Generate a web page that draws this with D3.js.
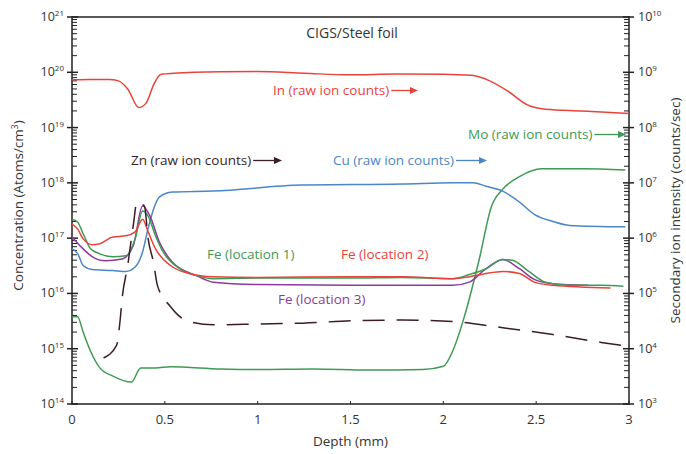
<!DOCTYPE html>
<html>
<head>
<meta charset="utf-8">
<script src="https://cdn.jsdelivr.net/npm/d3@7/dist/d3.min.js"></script>
<style>
  body { margin: 0; background: #fff; }
  text { font-family: "Open Sans", sans-serif; }
</style>
</head>
<body>
<div id="chart"></div>
<script>
// depth (mm) vs value; Fe curves on the left axis (atoms/cm3), raw counts on the right axis
const feLoc1 = [[0, 2.2e17], [0.03, 1.96e17], [0.06, 1.2e17], [0.10, 6.4e16], [0.15, 5.2e16], [0.22, 4.6e16], [0.29, 4.8e16],
  [0.34, 9.7e16], [0.38, 3.1e17], [0.41, 2.5e17], [0.45, 1.1e17], [0.49, 5.7e16], [0.58, 2.8e16], [0.67, 2.1e16],
  [0.76, 1.85e16], [1.0, 1.9e16], [1.5, 1.9e16], [1.78, 1.95e16], [2.05, 1.85e16], [2.14, 2.2e16], [2.23, 2.8e16],
  [2.32, 4.1e16], [2.37, 4.0e16], [2.46, 2.5e16], [2.55, 1.6e16], [2.68, 1.4e16], [2.85, 1.4e16], [2.97, 1.35e16]];
const feLoc2 = [[0, 1.8e17], [0.03, 1.47e17], [0.06, 9.7e16], [0.11, 7.6e16], [0.15, 7.9e16], [0.22, 1.05e17], [0.29, 1.1e17],
  [0.34, 1.3e17], [0.38, 2.2e17], [0.41, 1.3e17], [0.45, 6.4e16], [0.53, 3.2e16], [0.63, 2.3e16], [0.76, 2.0e16],
  [1.0, 1.95e16], [1.5, 2.0e16], [1.78, 2.0e16], [2.05, 1.85e16], [2.14, 2.0e16], [2.23, 2.3e16], [2.32, 2.5e16],
  [2.41, 2.3e16], [2.49, 1.6e16], [2.59, 1.4e16], [2.9, 1.25e16]];
const feLoc3 = [[0, 1.05e17], [0.06, 6.4e16], [0.11, 4.6e16], [0.18, 3.9e16], [0.27, 4.2e16], [0.33, 7.3e16], [0.38, 3.8e17],
  [0.42, 2.5e17], [0.47, 8.6e16], [0.54, 3.7e16], [0.67, 2.1e16], [0.76, 1.6e16], [1.0, 1.45e16], [1.5, 1.4e16],
  [1.78, 1.4e16], [2.05, 1.4e16], [2.14, 1.6e16], [2.23, 2.8e16], [2.32, 4.1e16], [2.41, 2.8e16], [2.49, 1.8e16],
  [2.59, 1.5e16], [2.78, 1.4e16]];

const inCounts = [[0, 7.3e8], [0.1, 7.4e8], [0.2, 7.4e8], [0.25, 7.0e8], [0.3, 5.0e8], [0.36, 2.3e8], [0.4, 2.8e8],
  [0.44, 6e8], [0.48, 9.2e8], [0.55, 9.6e8], [0.8, 1.02e9], [1.0, 1.03e9], [1.25, 9.6e8], [1.5, 9.0e8], [1.75, 9.3e8],
  [2.0, 9.2e8], [2.15, 8.8e8], [2.25, 7.0e8], [2.35, 4.5e8], [2.45, 2.6e8], [2.55, 2.15e8], [2.75, 2.0e8], [3.0, 1.8e8]];
const moCounts = [[0, 3.8e4], [0.03, 3.8e4], [0.06, 2.0e4], [0.10, 9e3], [0.15, 4.5e3], [0.22, 3.2e3], [0.32, 2.5e3],
  [0.37, 4.5e3], [0.45, 4.5e3], [0.53, 4.7e3], [0.8, 4.3e3], [1.0, 4.2e3], [1.3, 4.3e3], [1.6, 4.1e3], [1.89, 4.2e3],
  [2.0, 4.8e3], [2.05, 9e3], [2.11, 3.5e4], [2.19, 3.7e5], [2.26, 3.8e6], [2.32, 7.7e6], [2.41, 1.3e7], [2.53, 1.8e7],
  [2.75, 1.8e7], [2.98, 1.7e7]];
const znCounts = [[0.17, 6.8e3], [0.24, 1.15e4], [0.26, 3.5e4], [0.27, 8.1e4], [0.30, 3.2e5], [0.33, 1.7e6], [0.35, 4.5e6],
  [0.39, 3.8e6], [0.41, 9.8e5], [0.44, 3.5e5], [0.46, 1.4e5], [0.53, 5.8e4], [0.62, 3.2e4], [0.76, 2.7e4], [1.0, 2.8e4],
  [1.24, 2.9e4], [1.51, 3.2e4], [1.78, 3.3e4], [2.05, 3.1e4], [2.32, 2.4e4], [2.59, 1.8e4], [2.85, 1.3e4], [3.0, 1.1e4]];
const cuCounts = [[0, 6.4e5], [0.03, 5.3e5], [0.06, 3.2e5], [0.11, 2.7e5], [0.22, 2.6e5], [0.29, 2.5e5], [0.34, 3.0e5],
  [0.38, 5.6e5], [0.41, 1.5e6], [0.44, 3.4e6], [0.47, 5.5e6], [0.54, 6.8e6], [0.76, 7.1e6], [1.24, 9.1e6], [1.78, 9.5e6],
  [2.05, 1.0e7], [2.16, 1.0e7], [2.23, 8.7e6], [2.32, 7.1e6], [2.41, 4.5e6], [2.49, 2.7e6], [2.59, 2.0e6], [2.68, 1.7e6],
  [2.98, 1.6e6]];

const xTicks = [0, 0.5, 1, 1.5, 2, 2.5, 3];
const leftExp = [14, 15, 16, 17, 18, 19, 20, 21];
const rightExp = [3, 4, 5, 6, 7, 8, 9, 10];

const labels = [
  { text: 'In (raw ion counts)', x: 273, y: 95, color: '#e8433b', arrow: 418 },
  { text: 'Mo (raw ion counts)', x: 468, y: 139, color: '#3f9a55', arrow: 626 },
  { text: 'Zn (raw ion counts)', x: 131, y: 165, color: '#3b1d22', arrow: 282 },
  { text: 'Cu (raw ion counts)', x: 333, y: 165, color: '#4a86c8', arrow: 487 },
  { text: 'Fe (location 1)', x: 207, y: 259, color: '#3f9a55' },
  { text: 'Fe (location 2)', x: 341, y: 259, color: '#e8433b' },
  { text: 'Fe (location 3)', x: 278, y: 304, color: '#8c3a9e' }
];

const width = 686, height = 454;
const margin = { top: 17, right: 57, bottom: 50, left: 72 };
const innerW = width - margin.left - margin.right;
const innerH = height - margin.top - margin.bottom;

const svg = d3.select('#chart').append('svg')
  .attr('width', width)
  .attr('height', height);

const g = svg.append('g')
  .attr('transform', `translate(${margin.left},${margin.top})`);

const x = d3.scaleLinear().domain([0, 3]).range([0, innerW]);
const yLeft = d3.scaleLog().domain([1e14, 1e21]).range([innerH, 0]);
const yRight = d3.scaleLog().domain([1e3, 1e10]).range([innerH, 0]);

// frame
g.append('rect')
  .attr('width', innerW).attr('height', innerH)
  .attr('fill', 'none').attr('stroke', '#222').attr('stroke-width', 1.5);

// log minor ticks (2..9 in each decade)
function minorTicks(lo, hi) {
  const out = [];
  for (let e = lo; e < hi; e++) {
    for (let m = 2; m <= 9; m++) out.push(m * Math.pow(10, e));
  }
  return out;
}

g.selectAll('.lminor').data(minorTicks(14, 21)).enter().append('line')
  .attr('x1', 0).attr('x2', 5)
  .attr('y1', d => yLeft(d)).attr('y2', d => yLeft(d))
  .attr('stroke', '#222').attr('stroke-width', 1);
g.selectAll('.rminor').data(minorTicks(3, 10)).enter().append('line')
  .attr('x1', innerW - 5).attr('x2', innerW)
  .attr('y1', d => yRight(d)).attr('y2', d => yRight(d))
  .attr('stroke', '#222').attr('stroke-width', 1);

// major ticks
g.selectAll('.lmajor').data(leftExp).enter().append('line')
  .attr('x1', -5).attr('x2', 6)
  .attr('y1', d => yLeft(Math.pow(10, d))).attr('y2', d => yLeft(Math.pow(10, d)))
  .attr('stroke', '#222').attr('stroke-width', 1.5);
g.selectAll('.rmajor').data(rightExp).enter().append('line')
  .attr('x1', innerW - 6).attr('x2', innerW + 5)
  .attr('y1', d => yRight(Math.pow(10, d))).attr('y2', d => yRight(Math.pow(10, d)))
  .attr('stroke', '#222').attr('stroke-width', 1.5);
g.selectAll('.xtick').data(xTicks).enter().append('line')
  .attr('x1', d => x(d)).attr('x2', d => x(d))
  .attr('y1', innerH - 3).attr('y2', innerH)
  .attr('stroke', '#222').attr('stroke-width', 1);

// tick labels
function powLabel(sel, exp) {
  sel.append('tspan').text('10');
  sel.append('tspan').attr('dy', -5).attr('font-size', 8).text(exp);
}
g.selectAll('.llab').data(leftExp).enter().append('text')
  .attr('x', -8).attr('y', d => yLeft(Math.pow(10, d)) + 4)
  .attr('text-anchor', 'end').attr('font-size', 12.5).attr('fill', '#333')
  .each(function (d) { powLabel(d3.select(this), d); });
g.selectAll('.rlab').data(rightExp).enter().append('text')
  .attr('x', innerW + 9).attr('y', d => yRight(Math.pow(10, d)) + 4)
  .attr('font-size', 12.5).attr('fill', '#333')
  .each(function (d) { powLabel(d3.select(this), d); });
g.selectAll('.xlab').data(xTicks).enter().append('text')
  .attr('x', d => x(d)).attr('y', innerH + 20)
  .attr('text-anchor', 'middle').attr('font-size', 13).attr('fill', '#333')
  .text(d => d);

// axis titles
svg.append('text')
  .attr('transform', `translate(23,${margin.top + innerH / 2 - 5}) rotate(-90)`)
  .attr('text-anchor', 'middle').attr('font-size', 13.5).attr('fill', '#333')
  .call(t => {
    t.append('tspan').text('Concentration (Atoms/cm');
    t.append('tspan').attr('dy', -5).attr('font-size', 8.5).text('3');
    t.append('tspan').attr('dy', 5).text(')');
  });
svg.append('text')
  .attr('transform', `translate(680,${margin.top + innerH / 2}) rotate(-90)`)
  .attr('text-anchor', 'middle').attr('font-size', 13.5).attr('fill', '#333')
  .text('Secondary ion intensity (counts/sec)');
svg.append('text')
  .attr('x', margin.left + innerW / 2).attr('y', 446)
  .attr('text-anchor', 'middle').attr('font-size', 13.5).attr('fill', '#333')
  .text('Depth (mm)');
svg.append('text')
  .attr('x', 352).attr('y', 38)
  .attr('text-anchor', 'middle').attr('font-size', 14).attr('fill', '#333')
  .text('CIGS/Steel foil');

// curves
const lineL = d3.line().x(d => x(d[0])).y(d => yLeft(d[1])).curve(d3.curveMonotoneX);
const lineR = d3.line().x(d => x(d[0])).y(d => yRight(d[1])).curve(d3.curveMonotoneX);

const curves = [
  { data: moCounts, line: lineR, color: '#3f9a55' },
  { data: cuCounts, line: lineR, color: '#4a86c8' },
  { data: inCounts, line: lineR, color: '#e8433b' },
  { data: feLoc3, line: lineL, color: '#8c3a9e' },
  { data: feLoc1, line: lineL, color: '#3f9a55' },
  { data: feLoc2, line: lineL, color: '#e8433b' },
  { data: znCounts, line: lineR, color: '#3b1d22', dash: '22,12' }
];

g.selectAll('.curve').data(curves).enter().append('path')
  .attr('d', d => d.line(d.data))
  .attr('fill', 'none')
  .attr('stroke', d => d.color)
  .attr('stroke-width', 1.5)
  .attr('stroke-dasharray', d => d.dash || null);

// series labels with arrows
svg.selectAll('.slab').data(labels).enter().append('text')
  .attr('x', d => d.x).attr('y', d => d.y)
  .attr('font-size', 13.5).attr('fill', d => d.color)
  .text(d => d.text)
  .each(function (d) {
    if (!d.arrow) return;
    const end = this.getBBox().x + this.getBBox().width + 2;
    const yy = d.y - 4.5;
    svg.append('line')
      .attr('x1', end).attr('x2', d.arrow - 6)
      .attr('y1', yy).attr('y2', yy)
      .attr('stroke', d.color).attr('stroke-width', 1.3);
    svg.append('path')
      .attr('d', `M${d.arrow},${yy}L${d.arrow - 8},${yy - 3.5}L${d.arrow - 8},${yy + 3.5}Z`)
      .attr('fill', d.color);
  });
</script>
</body>
</html>
